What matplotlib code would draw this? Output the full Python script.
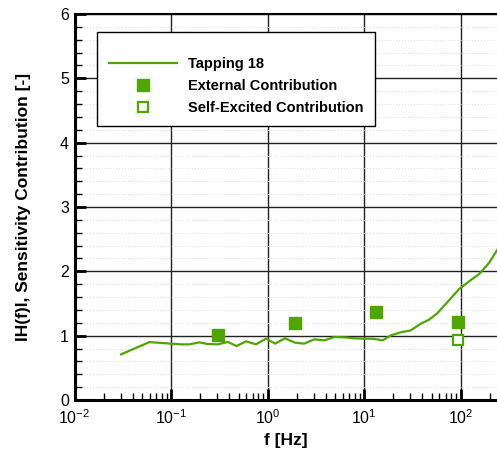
import numpy as np
import matplotlib
matplotlib.use('Agg')
import matplotlib.pyplot as plt
from matplotlib.ticker import LogLocator, MultipleLocator, NullFormatter

# ---- data ----
freq = [0.0304, 0.0597, 0.100, 0.127, 0.155, 0.196, 0.239, 0.304, 0.386, 0.477,
        0.597, 0.757, 0.961, 1.20, 1.51, 1.92, 2.39, 3.04, 3.86, 4.90,
        6.21, 7.88, 10.0, 12.2, 15.5, 18.9, 23.9, 30.4, 38.6, 47.0,
        57.4, 72.8, 96.1, 122, 155, 196, 239]
h_mag = [0.71, 0.90, 0.876, 0.865, 0.865, 0.896, 0.870, 0.865, 0.902, 0.839,
         0.912, 0.865, 0.953, 0.876, 0.959, 0.891, 0.876, 0.943, 0.927, 0.979,
         0.974, 0.959, 0.953, 0.953, 0.927, 1.005, 1.052, 1.083, 1.187, 1.249,
         1.352, 1.523, 1.725, 1.845, 1.959, 2.130, 2.337]
ext_f = [0.304, 1.93, 13.3, 93.8]
ext_v = [1.01, 1.197, 1.368, 1.212]
self_f = [94.0]
self_v = [0.927]

series_label = "Tapping 18"
ext_label = "External Contribution"
self_label = "Self-Excited Contribution"
x_label = "f [Hz]"
y_label = "IH(f)I, Sensitivity Contribution [-]"

green = '#4fa600'

plt.rcParams['font.family'] = ['Liberation Sans', 'DejaVu Sans']
plt.rcParams['mathtext.fontset'] = 'custom'
plt.rcParams['mathtext.rm'] = 'Liberation Sans'
plt.rcParams['mathtext.it'] = 'Liberation Sans'

fig = plt.figure(figsize=(4.97, 4.5), dpi=100)
ax = fig.add_axes([74.5 / 497, 50 / 450, 1 - 74.5 / 497, 386 / 450])

ax.set_xscale('log')
ax.set_xlim(0.01, 237)
ax.set_ylim(0, 6)

ax.xaxis.set_major_locator(LogLocator(base=10, numticks=10))
ax.xaxis.set_minor_locator(LogLocator(base=10, subs=np.arange(2, 10), numticks=20))
ax.xaxis.set_minor_formatter(NullFormatter())
ax.yaxis.set_major_locator(MultipleLocator(1))
ax.yaxis.set_minor_locator(MultipleLocator(0.2))

ax.grid(which='major', color='#222222', linewidth=1.0)
ax.grid(which='minor', axis='y', color='#dcdcdc', linestyle=(0, (1, 2)), linewidth=0.7)
ax.set_axisbelow(True)

ax.tick_params(which='major', direction='in', length=8, width=2, labelsize=11.5,
               top=False, right=False, colors='black')
ax.tick_params(which='minor', direction='in', length=5, width=1, top=False, right=False)
ax.tick_params(axis='x', which='major', pad=6)
ax.tick_params(axis='y', which='major', pad=4)

for s in ['left', 'bottom']:
    ax.spines[s].set_linewidth(2.2)
ax.spines['top'].set_linewidth(1.5)
ax.spines['right'].set_visible(False)

ax.plot(freq, h_mag, color=green, linewidth=1.6, label=series_label)
ax.plot(ext_f, ext_v, linestyle='none', marker='s', markersize=8,
        color=green, markeredgecolor=green, label=ext_label)
ax.plot(self_f, self_v, linestyle='none', marker='s', markersize=7.5,
        markerfacecolor='white', markeredgecolor=green, markeredgewidth=1.6,
        label=self_label)

ax.set_xlabel(x_label, fontsize=12.5, fontweight='bold', labelpad=4)
ax.set_ylabel(y_label, fontsize=12.5, fontweight='bold', labelpad=21)

leg = ax.legend(loc='upper left', bbox_to_anchor=(97 / 497, 1 - 32 / 450),
                bbox_transform=fig.transFigure, frameon=True, fancybox=False,
                edgecolor='black', framealpha=1, handlelength=4.7,
                handletextpad=0.75, labelspacing=0.55, borderpad=0.8,
                borderaxespad=0, prop={'weight': 'bold', 'size': 10.5},
                title=' ', title_fontsize=4)
leg.get_frame().set_linewidth(1.0)

fig.savefig('out.png', dpi=100)
